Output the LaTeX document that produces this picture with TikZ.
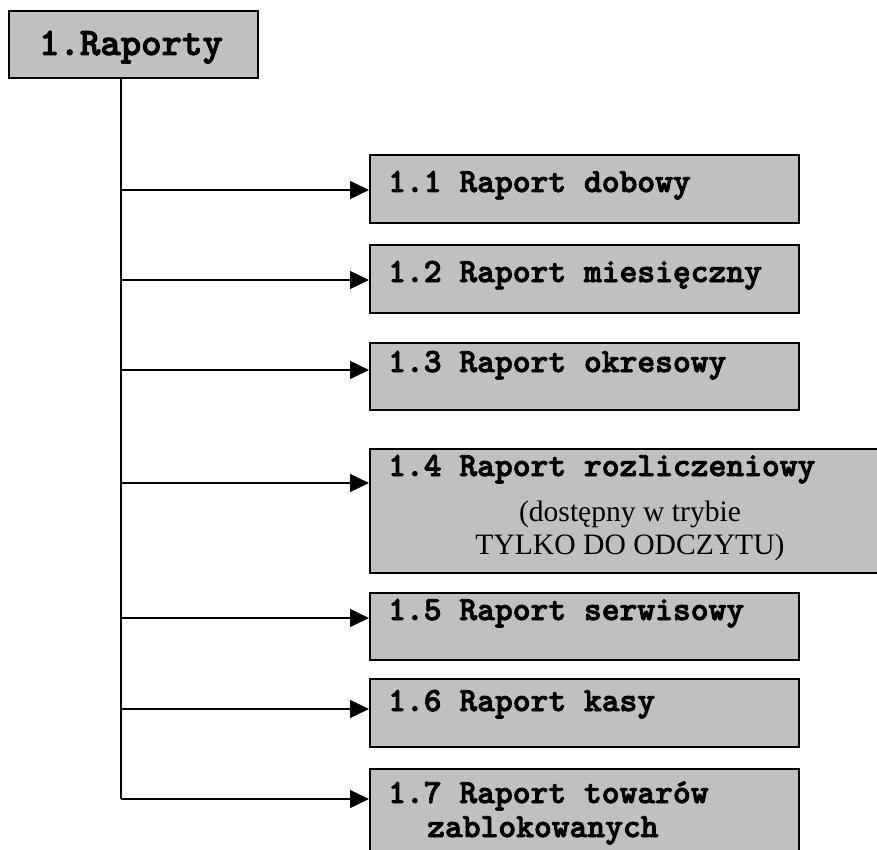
\documentclass[tikz,border=0pt]{standalone}
\usepackage{fontspec}
\setmainfont{Liberation Serif}
\newfontfamily\menufont[FakeBold=2.5]{lmmonolt10-bold.otf}
\usetikzlibrary{arrows.meta}

\definecolor{menugray}{RGB}{192,192,192}
\tikzset{
	menubox/.style={draw=black,line width=1.6pt,fill=menugray,rectangle,inner sep=0pt,anchor=north west},
	menutext/.style={font=\fontsize{33.9}{34}\selectfont\menufont,anchor=base west,inner sep=0pt},
	notetext/.style={font=\fontsize{29.6}{33}\selectfont,align=center,inner sep=0pt},
	trunk/.style={line width=1.3pt},
	branch/.style={line width=1.3pt,-{Triangle[length=19pt,width=18pt]}}
}

\begin{document}
\begin{tikzpicture}[x=1pt,y=-1pt]
		\clip (0,0) rectangle (877,850);

		\node[menubox,minimum width=249pt,minimum height=67pt]	(root)	at (8,10)	{};
		\node[menutext,font=\fontsize{38.9}{40}\selectfont\menufont,anchor=base]	(rootlbl)	at (131,55)	{1.Raporty};

		\node[menubox,minimum width=429pt,minimum height=68pt]	(r1)	at (369,154)	{};
		\node[menubox,minimum width=429pt,minimum height=68pt]	(r2)	at (369,244)	{};
		\node[menubox,minimum width=429pt,minimum height=67pt]	(r3)	at (369,342)	{};
		\node[menubox,minimum width=522pt,minimum height=124pt]	(r4)	at (369,448)	{};
		\node[menubox,minimum width=429pt,minimum height=67pt]	(r5)	at (369,592)	{};
		\node[menubox,minimum width=429pt,minimum height=68pt]	(r6)	at (369,678)	{};
		\node[menubox,minimum width=429pt,minimum height=110pt]	(r7)	at (369,768)	{};

		\node[menutext]	(t1)	at (388,192)	{1.1 Raport dobowy};
		\node[menutext]	(t2)	at (388,282)	{1.2 Raport miesięczny};
		\node[menutext]	(t3)	at (388,372)	{1.3 Raport okresowy};
		\node[menutext]	(t4)	at (388,476)	{1.4 Raport rozliczeniowy};
		\node[notetext]	(t4note)	at (630,531)	{(dostępny w trybie\\TYLKO DO ODCZYTU)};
		\node[menutext]	(t5)	at (388,620)	{1.5 Raport serwisowy};
		\node[menutext]	(t6)	at (388,711)	{1.6 Raport kasy};
		\node[menutext,align=left]	(t7)	at (388,837)	{1.7 Raport towarów\\\hspace*{1.15em}zablokowanych};

		\coordinate	(b1)	at (121,190);
		\coordinate	(b2)	at (121,280);
		\coordinate	(b3)	at (121,370);
		\coordinate	(b4)	at (121,483);
		\coordinate	(b5)	at (121,618);
		\coordinate	(b6)	at (121,709);
		\coordinate	(b7)	at (121,799);

		\draw[trunk]	(root.south -| b1) -- (b7);
		\draw[branch]	(b1) -- (b1 -| r1.west);
		\draw[branch]	(b2) -- (b2 -| r2.west);
		\draw[branch]	(b3) -- (b3 -| r3.west);
		\draw[branch]	(b4) -- (b4 -| r4.west);
		\draw[branch]	(b5) -- (b5 -| r5.west);
		\draw[branch]	(b6) -- (b6 -| r6.west);
		\draw[branch]	(b7) -- (b7 -| r7.west);
	\end{tikzpicture}
\end{document}
